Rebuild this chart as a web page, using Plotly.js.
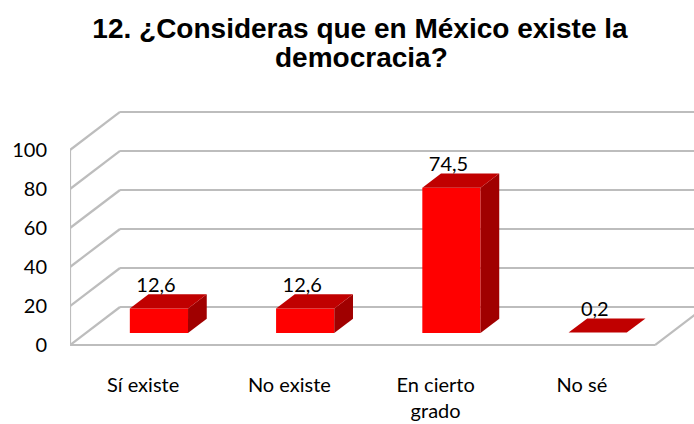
<!DOCTYPE html>
<html>
<head>
<meta charset="utf-8">
<script src="https://cdn.plot.ly/plotly-3.0.1.min.js"></script>
<style>html,body{margin:0;padding:0;background:#fff;}#chart{width:694px;height:424px;}</style>
</head>
<body>
<div id="chart"></div>
<script>
// ---- data ----
var titleLines = ['12. ¿Consideras que en México existe la', 'democracia?'];
var categories = ['Sí existe', 'No existe', 'En cierto<br>grado', 'No sé'];
var values = [12.6, 12.6, 74.5, 0.2];
var valueLabels = ['12,6', '12,6', '74,5', '0,2'];
var yTickValues = [0, 20, 40, 60, 80, 100];
var yTickLabels = ['0', '20', '40', '60', '80', '100'];

// ---- 3D projection (oblique) ----
var DX = 0.342;   // depth shift in category units
var DY = 19.49;   // depth shift in value units
function P(x, v, d) { return [x + d * DX, v + d * DY]; }

var xLeft = -0.5, xRight = categories.length - 0.5;
var yMax = yTickValues[yTickValues.length - 1];
var d0 = 0.316, d1 = 0.69, half = 0.199;

var traces = [];
function seg(xs, ys, a, b) {
  xs.push(a[0], b[0], null); ys.push(a[1], b[1], null);
}
// grid / walls
var gx = [], gy = [];
yTickValues.forEach(function (t) {
  seg(gx, gy, P(xLeft, t, 1), P(xRight + 0.5, t, 1));   // back wall
  seg(gx, gy, P(xLeft, t, 0), P(xLeft, t, 1));          // left wall
});
seg(gx, gy, P(xLeft, 0, 0), P(xLeft, yMax, 0));         // left front edge
seg(gx, gy, P(xLeft, 0, 0), P(xRight, 0, 0));           // floor front edge
seg(gx, gy, P(xRight, 0, 0), P(xRight, 0, 1));          // floor right edge
traces.push({
  type: 'scatter', mode: 'lines', x: gx, y: gy,
  line: { color: '#BDBDBD', width: 2.2 }, hoverinfo: 'skip', showlegend: false
});

function poly(pts, color) {
  var xs = pts.map(function (p) { return p[0]; });
  var ys = pts.map(function (p) { return p[1]; });
  xs.push(xs[0]); ys.push(ys[0]);
  traces.push({
    type: 'scatter', mode: 'lines', x: xs, y: ys, fill: 'toself',
    fillcolor: color, line: { width: 0, color: color },
    hoverinfo: 'skip', showlegend: false
  });
}

var lx = [], ly = [];
values.forEach(function (v, i) {
  var c = i;
  // front face
  poly([P(c - half, 0, d0), P(c + half, 0, d0), P(c + half, v, d0), P(c - half, v, d0)], '#FF0000');
  // side face
  poly([P(c + half, 0, d0), P(c + half, 0, d1), P(c + half, v, d1), P(c + half, v, d0)], '#A00000');
  // top face
  poly([P(c - half, v, d0), P(c + half, v, d0), P(c + half, v, d1), P(c - half, v, d1)], '#C00000');
  lx.push(c + d0 * DX - 0.02);
  ly.push(v + d1 * DY - 1.5);
});

traces.push({
  type: 'scatter', mode: 'text', x: lx, y: ly, text: valueLabels,
  textposition: 'top center', cliponaxis: false,
  textfont: { family: 'Lato, Carlito, sans-serif', size: 20, color: '#000' },
  hoverinfo: 'skip', showlegend: false
});

var titleFont = { family: 'Liberation Sans, Arial, sans-serif', size: 28, color: '#000' };
var layout = {
  width: 694, height: 424,
  margin: { l: 70, r: 0, t: 100, b: 74 },
  paper_bgcolor: '#fff', plot_bgcolor: '#fff',
  showlegend: false,
  title: {
    text: '<b>' + titleLines[0] + '</b>',
    font: titleFont,
    x: 360 / 694, xref: 'container', xanchor: 'center',
    y: 1 - 28 / 424, yref: 'container', yanchor: 'middle'
  },
  annotations: [{
    text: '<b>' + titleLines[1] + '</b>', font: titleFont, showarrow: false,
    xref: 'paper', yref: 'paper', x: (361 - 70) / 624, xanchor: 'center',
    y: (350 - 57) / 250, yanchor: 'middle'
  }],
  xaxis: {
    range: [-0.5, 3.7667], tickmode: 'array', tickvals: [0, 1, 2, 3], ticktext: categories,
    showgrid: false, zeroline: false, showline: false,
    ticks: 'outside', ticklen: 17, tickcolor: 'rgba(0,0,0,0)',
    tickfont: { family: 'Lato, Carlito, sans-serif', size: 20, color: '#000' },
    fixedrange: true
  },
  yaxis: {
    range: [-2.56, 125.64], tickmode: 'array', tickvals: yTickValues, ticktext: yTickLabels,
    showgrid: false, zeroline: false, showline: false,
    ticks: 'outside', ticklen: 18, tickcolor: 'rgba(0,0,0,0)',
    tickfont: { family: 'Lato, Carlito, sans-serif', size: 20, color: '#000' },
    fixedrange: true
  }
};

Plotly.newPlot('chart', traces, layout, { displayModeBar: false, staticPlot: true });
</script>
</body>
</html>
